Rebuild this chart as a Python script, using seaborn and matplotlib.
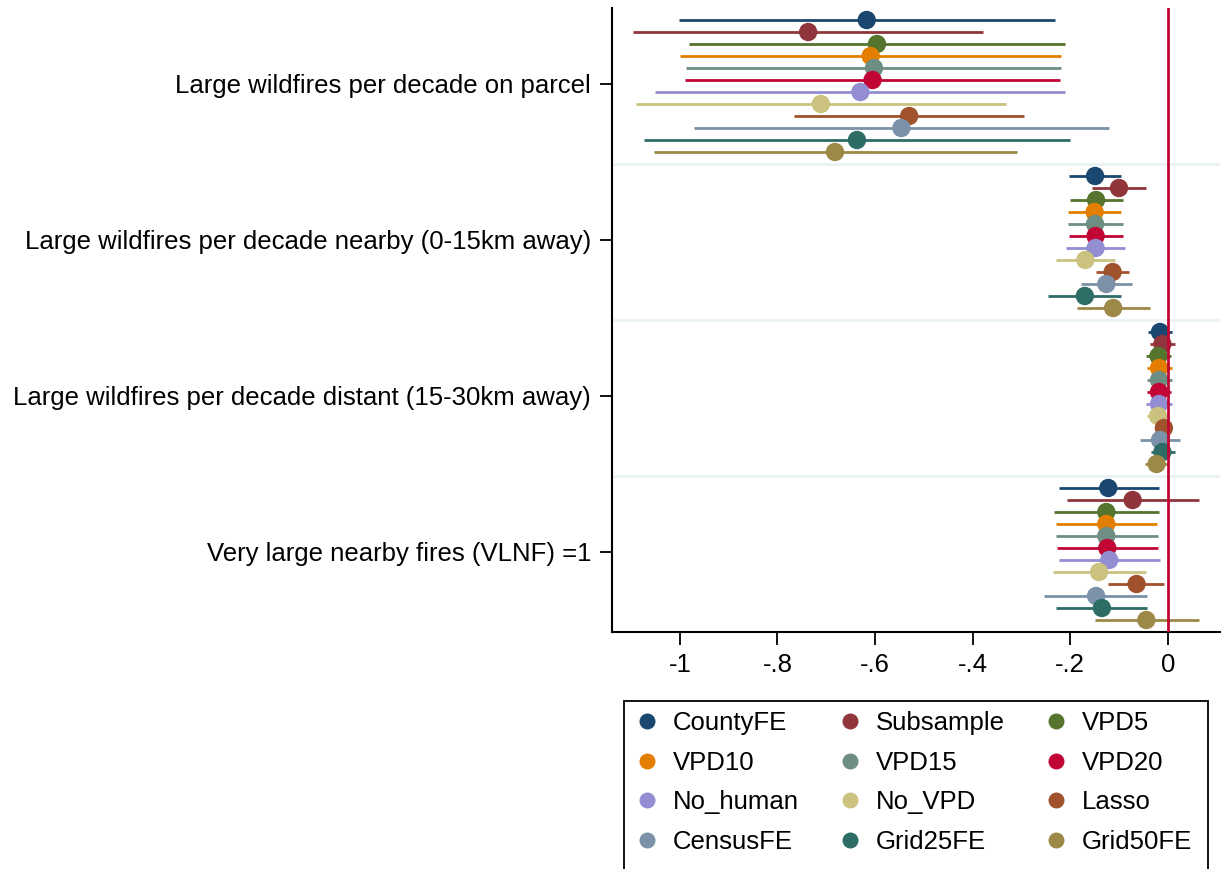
import matplotlib
matplotlib.use("Agg")
import matplotlib.pyplot as plt
import seaborn as sns
import pandas as pd
import numpy as np
from matplotlib.lines import Line2D
from matplotlib.patches import Rectangle

models = ["CountyFE", "Subsample", "VPD5", "VPD10", "VPD15", "VPD20",
          "No_human", "No_VPD", "Lasso", "CensusFE", "Grid25FE", "Grid50FE"]
# stata s2color
colors = ["#1a476f", "#90353b", "#55752f", "#e37e00", "#6e8e84", "#c10534",
          "#938dd2", "#cac27e", "#a0522d", "#7b92a8", "#2d6d66", "#9c8847"]

groups = ["Large wildfires per decade on parcel",
          "Large wildfires per decade nearby (0-15km away)",
          "Large wildfires per decade distant (15-30km away)",
          "Very large nearby fires (VLNF) =1"]

# estimates and 95% CI
b_parcel = [-0.617, -0.737, -0.596, -0.609, -0.602, -0.605, -0.630, -0.711, -0.530, -0.546, -0.637, -0.682]
lo_parcel = [-1.001, -1.095, -0.981, -0.999, -0.988, -0.990, -1.051, -1.090, -0.766, -0.971, -1.074, -1.053]
hi_parcel = [-0.232, -0.378, -0.211, -0.219, -0.218, -0.220, -0.210, -0.331, -0.294, -0.121, -0.201, -0.310]

b_near = [-0.149, -0.100, -0.147, -0.150, -0.149, -0.148, -0.148, -0.169, -0.113, -0.126, -0.170, -0.112]
lo_near = [-0.203, -0.155, -0.201, -0.205, -0.204, -0.203, -0.208, -0.229, -0.147, -0.178, -0.245, -0.187]
hi_near = [-0.095, -0.044, -0.092, -0.095, -0.092, -0.092, -0.087, -0.109, -0.079, -0.074, -0.095, -0.036]

b_dist = [-0.016, -0.011, -0.019, -0.018, -0.018, -0.018, -0.018, -0.020, -0.008, -0.016, -0.011, -0.023]
lo_dist = [-0.040, -0.037, -0.044, -0.042, -0.043, -0.042, -0.045, -0.042, -0.020, -0.057, -0.035, -0.047]
hi_dist = [0.009, 0.015, 0.006, 0.008, 0.008, 0.006, 0.009, 0.002, 0.005, 0.026, 0.015, -0.001]

b_vlnf = [-0.122, -0.072, -0.126, -0.126, -0.126, -0.124, -0.120, -0.141, -0.064, -0.147, -0.135, -0.044]
lo_vlnf = [-0.223, -0.206, -0.234, -0.230, -0.230, -0.227, -0.222, -0.236, -0.122, -0.253, -0.229, -0.150]
hi_vlnf = [-0.018, 0.063, -0.019, -0.022, -0.021, -0.021, -0.016, -0.044, -0.007, -0.042, -0.042, 0.063]

xticks = [-1, -0.8, -0.6, -0.4, -0.2, 0]
xticklabels = ["-1", "-.8", "-.6", "-.4", "-.2", "0"]

rows = []
est = [(b_parcel, lo_parcel, hi_parcel), (b_near, lo_near, hi_near),
       (b_dist, lo_dist, hi_dist), (b_vlnf, lo_vlnf, hi_vlnf)]
for g, (b, lo, hi) in enumerate(est):
    for i, m in enumerate(models):
        rows.append({"group": groups[g], "model": m, "b": b[i], "lo": lo[i],
                     "hi": hi[i], "y": g * 13 + i})
df = pd.DataFrame(rows)

sns.set_style("white")
plt.rcParams['font.family'] = ['Liberation Sans', 'DejaVu Sans']
plt.rcParams['text.color'] = 'black'
plt.rcParams['xtick.color'] = 'black'
plt.rcParams['ytick.color'] = 'black'
fs = 18.5

fig = plt.figure(figsize=(12.25, 8.69), dpi=100)
ax = fig.add_axes([612 / 1225, 1 - 632 / 869, (1220 - 612) / 1225, (632 - 8) / 869])

# group separators
for s in [12, 25, 38]:
    ax.axhline(s, color="#eaf2f3", lw=2, zorder=1)

for i, m in enumerate(models):
    sub = df[df.model == m]
    ax.hlines(sub.y, sub.lo, sub.hi, color=colors[i], lw=2, zorder=2 + 2 * i)
    sns.scatterplot(data=sub, x="b", y="y", color=colors[i], s=175,
                    edgecolor="none", ax=ax, zorder=3 + 2 * i, legend=False)

ax.axvline(0, color="#c10534", lw=2, zorder=40)

ax.set_xlim(-1.139, 0.107)
ax.set_ylim(51, -1)
ax.set_xticks(xticks)
ax.set_xticklabels(xticklabels, fontsize=fs)
ax.set_yticks([5.3 + 13 * g for g in range(4)])
ax.set_yticklabels(groups, fontsize=fs)
ax.set_xlabel("")
ax.set_ylabel("")
for sp in ["top", "right"]:
    ax.spines[sp].set_visible(False)
for sp in ["left", "bottom"]:
    ax.spines[sp].set_color("black")
    ax.spines[sp].set_linewidth(1.5)
ax.tick_params(axis="both", which="major", length=9, width=1.3,
               left=True, bottom=True, pad=6)

# legend, filled row-wise like stata
order = [0, 3, 6, 9, 1, 4, 7, 10, 2, 5, 8, 11]
handles = [Line2D([], [], marker="o", ls="none", color=colors[k], markersize=11.5,
                  markeredgewidth=0, label=models[k]) for k in order]
leg = fig.legend(handles=handles, ncol=3, loc="upper left",
                 bbox_to_anchor=(624 / 1225, 1 - 701 / 869), fontsize=fs,
                 frameon=False, handletextpad=0.5, columnspacing=1.5,
                 labelspacing=0.6, borderpad=0.4, handlelength=1.0,
                 borderaxespad=0)
# legend box runs off the bottom of the canvas, as in the original
box = Rectangle((624 / 1225, -0.02), (1208 - 624) / 1225, 0.02 + 1 - 701 / 869,
                transform=fig.transFigure, fill=False, edgecolor="black",
                lw=1.3, clip_on=False)
fig.patches.append(box)

fig.savefig("out.png", dpi=100)
